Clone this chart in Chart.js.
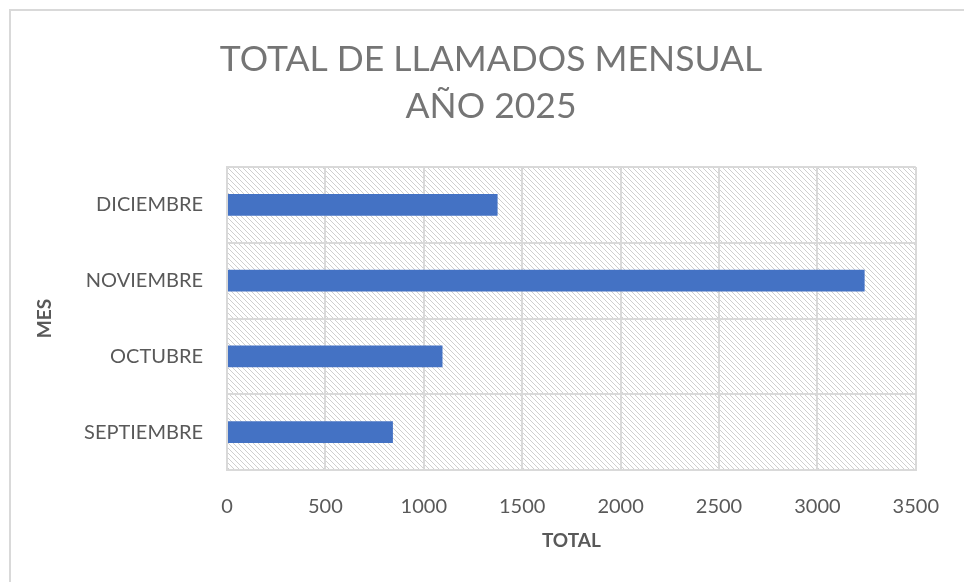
<!DOCTYPE html>
<html>
<head>
<meta charset="utf-8">
<script src="https://cdn.jsdelivr.net/npm/chart.js@4/dist/chart.umd.min.js"></script>
<style>
  html, body { margin: 0; padding: 0; background: #fff; }
  #wrap { position: relative; width: 964px; height: 582px; }
</style>
</head>
<body>
<div id="wrap"><canvas id="bar-chart" width="964" height="582"></canvas></div>
<script>
var meses = ['DICIEMBRE', 'NOVIEMBRE', 'OCTUBRE', 'SEPTIEMBRE'];
var totales = [1375, 3240, 1095, 843];
var ticksX = [0, 500, 1000, 1500, 2000, 2500, 3000, 3500];
var titulo = ['TOTAL DE LLAMADOS MENSUAL', 'AÑO 2025'];

function makeHatch() {
    var s = 5;
    var c = document.createElement('canvas');
    c.width = s; c.height = s;
    var g = c.getContext('2d');
    g.strokeStyle = '#cfcfcf';
    g.lineWidth = 1;
    g.beginPath();
    g.moveTo(0, 0); g.lineTo(s, s);
    g.moveTo(-1, s - 1); g.lineTo(1, s + 1);
    g.moveTo(s - 1, -1); g.lineTo(s + 1, 1);
    g.stroke();
    return c;
}

// marco, fondo rayado del area de trazado y titulo
var fondo = {
    id: 'fondo',
    beforeDraw: function(chart) {
        var ctx = chart.ctx, a = chart.chartArea;
        ctx.save();
        ctx.fillStyle = '#ffffff';
        ctx.fillRect(0, 0, chart.width, chart.height);
        ctx.strokeStyle = '#d9d9d9';
        ctx.lineWidth = 2;
        ctx.beginPath();
        ctx.moveTo(10, chart.height);
        ctx.lineTo(10, 10);
        ctx.lineTo(chart.width, 10);
        ctx.stroke();
        ctx.fillStyle = ctx.createPattern(makeHatch(), 'repeat');
        ctx.fillRect(a.left, a.top, a.right - a.left, a.bottom - a.top);

        ctx.fillStyle = '#757575';
        ctx.font = '35.5px Lato';
        ctx.textAlign = 'center';
        ctx.textBaseline = 'middle';
        titulo.forEach(function(t, i) {
            ctx.fillText(t, 491, 60 + i * 47);
        });
        ctx.restore();
    }
};

var ctx = document.getElementById('bar-chart').getContext('2d');
var chart = new Chart(ctx, {
    type: 'bar',
    data: {
        labels: meses,
        datasets: [{
            label: 'TOTAL',
            data: totales,
            backgroundColor: '#4472c4',
            borderWidth: 0,
            categoryPercentage: 1,
            barPercentage: 0.29
        }]
    },
    options: {
        indexAxis: 'y',
        responsive: false,
        animation: false,
        layout: { padding: { left: 0, right: 47, top: 167, bottom: 0 } },
        plugins: {
            legend: { display: false },
            tooltip: { enabled: false },
            title: { display: false }
        },
        scales: {
            x: {
                min: 0,
                max: 3500,
                afterBuildTicks: function(scale) {
                    scale.ticks = ticksX.map(function(v) { return { value: v }; });
                },
                afterFit: function(scale) { scale.height = 112; },
                grid: { color: '#d9d9d9', lineWidth: 2, drawTicks: false },
                border: { color: '#d9d9d9', width: 2 },
                ticks: {
                    color: '#595959',
                    padding: 25,
                    font: { family: 'Lato', size: 20 },
                    callback: function(v) { return String(v); }
                },
                title: {
                    display: true,
                    text: 'TOTAL',
                    color: '#595959',
                    font: { family: 'Lato', size: 19, weight: 'bold' },
                    padding: { top: 0, bottom: 30 }
                }
            },
            y: {
                afterFit: function(scale) { scale.width = 227; },
                grid: { color: '#d9d9d9', lineWidth: 2, drawTicks: false, offset: true },
                border: { color: '#d9d9d9', width: 2 },
                ticks: { color: '#595959', padding: 24, font: { family: 'Lato', size: 20 } },
                title: {
                    display: true,
                    text: 'MES',
                    color: '#595959',
                    font: { family: 'Lato', size: 19, weight: 'bold' },
                    padding: { top: 33, bottom: 0 }
                }
            }
        }
    },
    plugins: [fondo]
});
</script>
</body>
</html>
